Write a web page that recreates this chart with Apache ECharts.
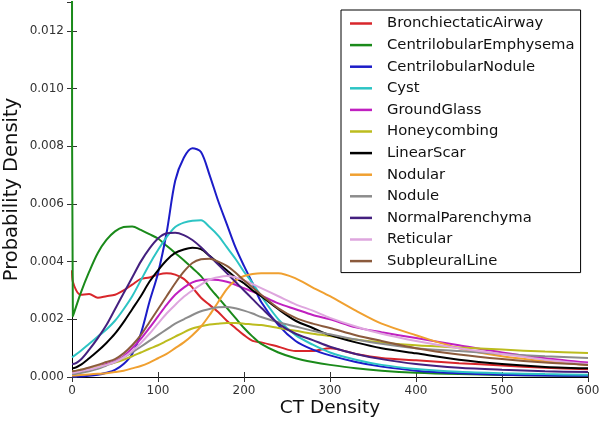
<!DOCTYPE html>
<html>
<head>
<meta charset="utf-8">
<script src="https://cdn.jsdelivr.net/npm/echarts@6/dist/echarts.min.js"></script>
<style>
  html, body { margin: 0; padding: 0; background: #fff; }
  #chart { width: 600px; height: 422px; }
</style>
</head>
<body>
<div id="chart"></div>
<script>
// CT density grid shared by all curves
var ctDensity = [0, 1, 10, 20, 30, 40, 50, 60, 70, 80, 90, 100, 110, 120, 130, 140, 150, 160, 170, 180, 190, 200, 210, 220, 240, 260, 280, 300, 330, 360, 400, 450, 500, 550, 600];

// probability density values, in units of 0.001
var bronchiectaticAirway = [3.7, 3.3, 2.85, 2.88, 2.75, 2.8, 2.85, 3.0, 3.2, 3.4, 3.45, 3.55, 3.6, 3.55, 3.4, 3.1, 2.75, 2.5, 2.25, 1.95, 1.7, 1.45, 1.25, 1.2, 1.05, 0.9, 0.9, 1.0, 0.8, 0.66, 0.58, 0.48, 0.4, 0.32, 0.27];
var centrilobularEmphysema = [14, 2.1, 2.9, 3.65, 4.3, 4.75, 5.05, 5.2, 5.22, 5.1, 4.95, 4.8, 4.55, 4.3, 4.05, 3.78, 3.5, 3.1, 2.75, 2.4, 2.05, 1.7, 1.4, 1.15, 0.85, 0.65, 0.52, 0.42, 0.3, 0.22, 0.15, 0.1, 0.07, 0.05, 0.04];
var centrilobularNodule = [0.02, 0.02, 0.02, 0.04, 0.08, 0.15, 0.25, 0.45, 0.8, 1.5, 2.6, 3.6, 5.0, 6.8, 7.6, 7.93, 7.8, 7.0, 6.1, 5.3, 4.5, 3.85, 3.25, 2.6, 1.8, 1.25, 0.95, 0.75, 0.52, 0.36, 0.22, 0.13, 0.08, 0.05, 0.04];
var cyst = [0.68, 0.7, 0.9, 1.15, 1.4, 1.65, 1.95, 2.35, 2.8, 3.35, 3.9, 4.4, 4.85, 5.2, 5.35, 5.42, 5.43, 5.2, 4.9, 4.5, 4.1, 3.65, 3.25, 2.8, 2.0, 1.45, 1.12, 0.85, 0.6, 0.42, 0.28, 0.18, 0.13, 0.1, 0.08];
var groundGlass = [0.15, 0.15, 0.2, 0.28, 0.36, 0.45, 0.55, 0.72, 1.0, 1.32, 1.7, 2.1, 2.5, 2.85, 3.1, 3.28, 3.36, 3.38, 3.36, 3.3, 3.2, 3.08, 2.96, 2.83, 2.55, 2.35, 2.15, 2.0, 1.72, 1.55, 1.35, 1.1, 0.85, 0.65, 0.5];
var honeycombing = [0.2, 0.2, 0.25, 0.3, 0.36, 0.42, 0.5, 0.6, 0.72, 0.85, 0.98, 1.1, 1.25, 1.4, 1.55, 1.68, 1.76, 1.82, 1.85, 1.87, 1.87, 1.85, 1.82, 1.8, 1.7, 1.6, 1.5, 1.42, 1.3, 1.2, 1.1, 1.02, 0.95, 0.88, 0.83];
var linearScar = [0.3, 0.3, 0.42, 0.65, 0.9, 1.18, 1.5, 1.9, 2.35, 2.8, 3.3, 3.7, 4.05, 4.3, 4.42, 4.48, 4.43, 4.2, 3.95, 3.7, 3.45, 3.25, 3.0, 2.8, 2.35, 1.95, 1.7, 1.45, 1.2, 1.0, 0.82, 0.6, 0.45, 0.35, 0.3];
var nodular = [0.05, 0.05, 0.07, 0.09, 0.11, 0.13, 0.17, 0.22, 0.3, 0.38, 0.5, 0.65, 0.8, 1.0, 1.2, 1.45, 1.75, 2.15, 2.6, 3.05, 3.35, 3.5, 3.57, 3.6, 3.6, 3.42, 3.1, 2.8, 2.3, 1.85, 1.45, 1.0, 0.72, 0.55, 0.42];
var nodule = [0.1, 0.1, 0.14, 0.2, 0.28, 0.4, 0.52, 0.68, 0.85, 1.05, 1.25, 1.45, 1.65, 1.85, 2.0, 2.15, 2.28, 2.36, 2.42, 2.43, 2.38, 2.3, 2.2, 2.08, 1.9, 1.75, 1.6, 1.48, 1.3, 1.15, 1.0, 0.9, 0.8, 0.72, 0.66];
var normalParenchyma = [0.45, 0.45, 0.6, 0.95, 1.35, 1.8, 2.35, 2.9, 3.45, 4.0, 4.45, 4.8, 4.98, 5.0, 4.92, 4.75, 4.5, 4.2, 3.9, 3.6, 3.3, 3.0, 2.7, 2.4, 1.85, 1.5, 1.28, 1.05, 0.8, 0.62, 0.45, 0.32, 0.25, 0.2, 0.17];
var reticular = [0.15, 0.15, 0.2, 0.26, 0.34, 0.42, 0.52, 0.68, 0.9, 1.18, 1.5, 1.85, 2.2, 2.5, 2.78, 3.0, 3.2, 3.38, 3.46, 3.5, 3.46, 3.35, 3.22, 3.08, 2.8, 2.52, 2.3, 2.05, 1.75, 1.5, 1.25, 1.0, 0.8, 0.6, 0.45];
var subpleuralLine = [0.2, 0.2, 0.25, 0.33, 0.42, 0.52, 0.62, 0.82, 1.1, 1.45, 1.9, 2.35, 2.8, 3.25, 3.65, 3.95, 4.08, 4.1, 4.0, 3.85, 3.62, 3.35, 3.1, 2.85, 2.38, 2.05, 1.85, 1.7, 1.45, 1.25, 1.0, 0.78, 0.62, 0.5, 0.42];

var seriesNames = ['BronchiectaticAirway', 'CentrilobularEmphysema', 'CentrilobularNodule', 'Cyst', 'GroundGlass', 'Honeycombing', 'LinearScar', 'Nodular', 'Nodule', 'NormalParenchyma', 'Reticular', 'SubpleuralLine'];
var seriesValues = [bronchiectaticAirway, centrilobularEmphysema, centrilobularNodule, cyst, groundGlass, honeycombing, linearScar, nodular, nodule, normalParenchyma, reticular, subpleuralLine];
var seriesColors = ['#d8262b', '#1a8a1a', '#1c1cc8', '#2cc4c4', '#c020c0', '#bcbc1e', '#000000', '#f0a030', '#8c8c8c', '#44207f', '#dea6de', '#8b5a3c'];

var xTicks = [0, 100, 200, 300, 400, 500, 600];
var yTicks = [0.000, 0.002, 0.004, 0.006, 0.008, 0.010, 0.012];

var myChart = echarts.init(document.getElementById('chart'));

var font = 'DejaVu Sans';
var axisCommon = {
    axisLine: { show: true, lineStyle: { color: '#000', width: 1 } },
    axisTick: { show: true, inside: true, length: 5, lineStyle: { color: '#333' } },
    splitLine: { show: false }
};

var series = seriesNames.map(function (name, k) {
    return {
        name: name,
        type: 'line',
        symbol: 'none',
        smooth: 0.3,
        clip: true,
        lineStyle: { width: 2, color: seriesColors[k] },
        itemStyle: { color: seriesColors[k] },
        data: ctDensity.map(function (x, i) {
            return [x, seriesValues[k][i] / 1000];
        })
    };
});

var option = {
    animation: false,
    grid: { left: 72, right: 12, top: 2, bottom: 45, outerBoundsMode: 'none', containLabel: false },
    legend: {
        orient: 'vertical',
        left: 341,
        top: 10,
        padding: [6, 6, 4, 9],
        borderColor: '#000',
        borderWidth: 1,
        icon: 'rect',
        itemWidth: 22,
        itemHeight: 2.5,
        itemGap: 6.6,
        data: seriesNames,
        textStyle: { fontFamily: font, fontSize: 14.8, color: '#111', padding: [0, 0, 0, 10] }
    },
    series: series
};

option.xAxis = [
    Object.assign({}, axisCommon, {
        type: 'value', min: xTicks[0], max: xTicks[xTicks.length - 1], interval: 100,
        name: 'CT Density', nameLocation: 'middle', nameGap: 22, nameMoveOverlap: false,
        nameTextStyle: { fontFamily: font, fontSize: 18.5, color: '#111' },
        axisLabel: { fontFamily: font, fontSize: 12, color: '#333', margin: 8 }
    }),
    Object.assign({}, axisCommon, {
        type: 'value', position: 'top', min: 0, max: 600, interval: 100,
        axisLabel: { show: false }
    })
];
option.yAxis = [
    Object.assign({}, axisCommon, {
        type: 'value', min: yTicks[0], max: 0.013, interval: 0.002,
        name: 'Probability Density', nameLocation: 'middle', nameGap: 50, nameRotate: 90, nameMoveOverlap: false,
        nameTextStyle: { fontFamily: font, fontSize: 19.5, color: '#111' },
        axisLabel: {
            fontFamily: font, fontSize: 12, color: '#333', margin: 8, showMaxLabel: false,
            formatter: function (v) { return v.toFixed(3); }
        }
    }),
    Object.assign({}, axisCommon, {
        type: 'value', position: 'right', min: 0, max: 0.013, interval: 0.002,
        axisLabel: { show: false }
    })
];

myChart.setOption(option);
</script>
</body>
</html>
